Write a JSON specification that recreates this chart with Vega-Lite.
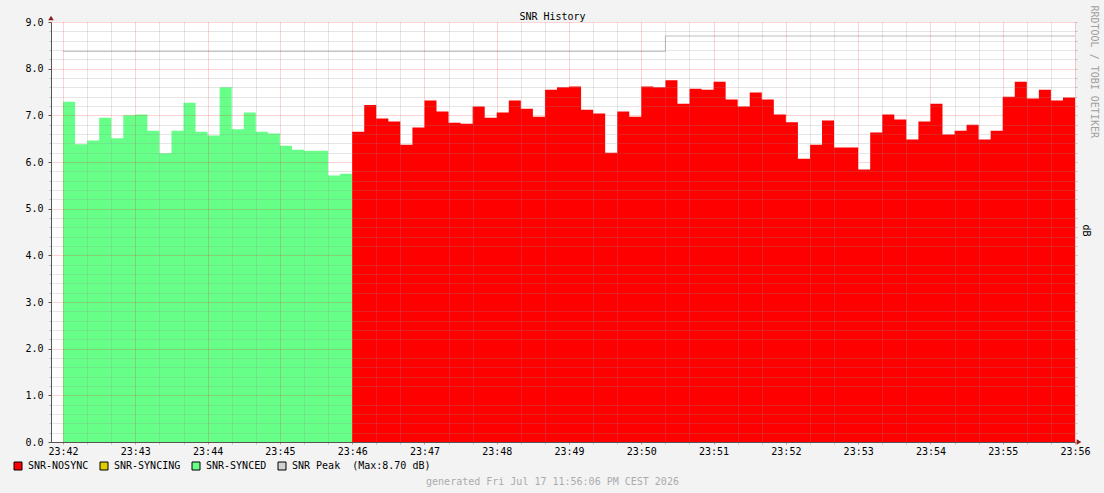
{
  "$schema": "https://vega.github.io/schema/vega-lite/v6.json",
  "width": 1024,
  "height": 420,
  "autosize": {"type": "none"},
  "padding": {"left": 51, "top": 22, "right": 29, "bottom": 51},
  "background": "#F3F3F3",
  "config": {
    "font": "DejaVu Sans Mono",
    "view": {"fill": "#FFFFFF", "stroke": null},
    "axis": {"labelFont": "DejaVu Sans Mono", "labelFontSize": 10, "labelColor": "#000000", "titleFont": "DejaVu Sans Mono", "titleFontSize": 10, "titleFontWeight": "normal", "titleColor": "#000000"},
    "legend": {"labelFont": "DejaVu Sans Mono", "labelFontSize": 10, "labelColor": "#000000"}
  },
  "datasets": {
    "snr": [
      {"t": "2026-07-17T23:42:00Z", "v": 7.29, "s": "SNR-SYNCED"},
      {"t": "2026-07-17T23:42:10Z", "v": 6.38, "s": "SNR-SYNCED"},
      {"t": "2026-07-17T23:42:20Z", "v": 6.46, "s": "SNR-SYNCED"},
      {"t": "2026-07-17T23:42:30Z", "v": 6.95, "s": "SNR-SYNCED"},
      {"t": "2026-07-17T23:42:40Z", "v": 6.51, "s": "SNR-SYNCED"},
      {"t": "2026-07-17T23:42:50Z", "v": 7.00, "s": "SNR-SYNCED"},
      {"t": "2026-07-17T23:43:00Z", "v": 7.02, "s": "SNR-SYNCED"},
      {"t": "2026-07-17T23:43:10Z", "v": 6.67, "s": "SNR-SYNCED"},
      {"t": "2026-07-17T23:43:20Z", "v": 6.19, "s": "SNR-SYNCED"},
      {"t": "2026-07-17T23:43:30Z", "v": 6.67, "s": "SNR-SYNCED"},
      {"t": "2026-07-17T23:43:40Z", "v": 7.27, "s": "SNR-SYNCED"},
      {"t": "2026-07-17T23:43:50Z", "v": 6.65, "s": "SNR-SYNCED"},
      {"t": "2026-07-17T23:44:00Z", "v": 6.57, "s": "SNR-SYNCED"},
      {"t": "2026-07-17T23:44:10Z", "v": 7.60, "s": "SNR-SYNCED"},
      {"t": "2026-07-17T23:44:20Z", "v": 6.70, "s": "SNR-SYNCED"},
      {"t": "2026-07-17T23:44:30Z", "v": 7.06, "s": "SNR-SYNCED"},
      {"t": "2026-07-17T23:44:40Z", "v": 6.65, "s": "SNR-SYNCED"},
      {"t": "2026-07-17T23:44:50Z", "v": 6.61, "s": "SNR-SYNCED"},
      {"t": "2026-07-17T23:45:00Z", "v": 6.35, "s": "SNR-SYNCED"},
      {"t": "2026-07-17T23:45:10Z", "v": 6.26, "s": "SNR-SYNCED"},
      {"t": "2026-07-17T23:45:20Z", "v": 6.24, "s": "SNR-SYNCED"},
      {"t": "2026-07-17T23:45:30Z", "v": 6.24, "s": "SNR-SYNCED"},
      {"t": "2026-07-17T23:45:40Z", "v": 5.71, "s": "SNR-SYNCED"},
      {"t": "2026-07-17T23:45:50Z", "v": 5.75, "s": "SNR-SYNCED"},
      {"t": "2026-07-17T23:46:00Z", "v": 5.75, "s": "SNR-SYNCED"},
      {"t": "2026-07-17T23:46:00Z", "v": 6.65, "s": "SNR-NOSYNC"},
      {"t": "2026-07-17T23:46:10Z", "v": 7.22, "s": "SNR-NOSYNC"},
      {"t": "2026-07-17T23:46:20Z", "v": 6.93, "s": "SNR-NOSYNC"},
      {"t": "2026-07-17T23:46:30Z", "v": 6.87, "s": "SNR-NOSYNC"},
      {"t": "2026-07-17T23:46:40Z", "v": 6.37, "s": "SNR-NOSYNC"},
      {"t": "2026-07-17T23:46:50Z", "v": 6.74, "s": "SNR-NOSYNC"},
      {"t": "2026-07-17T23:47:00Z", "v": 7.32, "s": "SNR-NOSYNC"},
      {"t": "2026-07-17T23:47:10Z", "v": 7.08, "s": "SNR-NOSYNC"},
      {"t": "2026-07-17T23:47:20Z", "v": 6.84, "s": "SNR-NOSYNC"},
      {"t": "2026-07-17T23:47:30Z", "v": 6.82, "s": "SNR-NOSYNC"},
      {"t": "2026-07-17T23:47:40Z", "v": 7.19, "s": "SNR-NOSYNC"},
      {"t": "2026-07-17T23:47:50Z", "v": 6.95, "s": "SNR-NOSYNC"},
      {"t": "2026-07-17T23:48:00Z", "v": 7.06, "s": "SNR-NOSYNC"},
      {"t": "2026-07-17T23:48:10Z", "v": 7.32, "s": "SNR-NOSYNC"},
      {"t": "2026-07-17T23:48:20Z", "v": 7.14, "s": "SNR-NOSYNC"},
      {"t": "2026-07-17T23:48:30Z", "v": 6.97, "s": "SNR-NOSYNC"},
      {"t": "2026-07-17T23:48:40Z", "v": 7.55, "s": "SNR-NOSYNC"},
      {"t": "2026-07-17T23:48:50Z", "v": 7.60, "s": "SNR-NOSYNC"},
      {"t": "2026-07-17T23:49:00Z", "v": 7.62, "s": "SNR-NOSYNC"},
      {"t": "2026-07-17T23:49:10Z", "v": 7.12, "s": "SNR-NOSYNC"},
      {"t": "2026-07-17T23:49:20Z", "v": 7.04, "s": "SNR-NOSYNC"},
      {"t": "2026-07-17T23:49:30Z", "v": 6.20, "s": "SNR-NOSYNC"},
      {"t": "2026-07-17T23:49:40Z", "v": 7.08, "s": "SNR-NOSYNC"},
      {"t": "2026-07-17T23:49:50Z", "v": 6.97, "s": "SNR-NOSYNC"},
      {"t": "2026-07-17T23:50:00Z", "v": 7.62, "s": "SNR-NOSYNC"},
      {"t": "2026-07-17T23:50:10Z", "v": 7.60, "s": "SNR-NOSYNC"},
      {"t": "2026-07-17T23:50:20Z", "v": 7.75, "s": "SNR-NOSYNC"},
      {"t": "2026-07-17T23:50:30Z", "v": 7.25, "s": "SNR-NOSYNC"},
      {"t": "2026-07-17T23:50:40Z", "v": 7.57, "s": "SNR-NOSYNC"},
      {"t": "2026-07-17T23:50:50Z", "v": 7.55, "s": "SNR-NOSYNC"},
      {"t": "2026-07-17T23:51:00Z", "v": 7.72, "s": "SNR-NOSYNC"},
      {"t": "2026-07-17T23:51:10Z", "v": 7.34, "s": "SNR-NOSYNC"},
      {"t": "2026-07-17T23:51:20Z", "v": 7.19, "s": "SNR-NOSYNC"},
      {"t": "2026-07-17T23:51:30Z", "v": 7.49, "s": "SNR-NOSYNC"},
      {"t": "2026-07-17T23:51:40Z", "v": 7.34, "s": "SNR-NOSYNC"},
      {"t": "2026-07-17T23:51:50Z", "v": 7.02, "s": "SNR-NOSYNC"},
      {"t": "2026-07-17T23:52:00Z", "v": 6.85, "s": "SNR-NOSYNC"},
      {"t": "2026-07-17T23:52:10Z", "v": 6.07, "s": "SNR-NOSYNC"},
      {"t": "2026-07-17T23:52:20Z", "v": 6.37, "s": "SNR-NOSYNC"},
      {"t": "2026-07-17T23:52:30Z", "v": 6.89, "s": "SNR-NOSYNC"},
      {"t": "2026-07-17T23:52:40Z", "v": 6.31, "s": "SNR-NOSYNC"},
      {"t": "2026-07-17T23:52:50Z", "v": 6.31, "s": "SNR-NOSYNC"},
      {"t": "2026-07-17T23:53:00Z", "v": 5.84, "s": "SNR-NOSYNC"},
      {"t": "2026-07-17T23:53:10Z", "v": 6.63, "s": "SNR-NOSYNC"},
      {"t": "2026-07-17T23:53:20Z", "v": 7.02, "s": "SNR-NOSYNC"},
      {"t": "2026-07-17T23:53:30Z", "v": 6.91, "s": "SNR-NOSYNC"},
      {"t": "2026-07-17T23:53:40Z", "v": 6.48, "s": "SNR-NOSYNC"},
      {"t": "2026-07-17T23:53:50Z", "v": 6.87, "s": "SNR-NOSYNC"},
      {"t": "2026-07-17T23:54:00Z", "v": 7.25, "s": "SNR-NOSYNC"},
      {"t": "2026-07-17T23:54:10Z", "v": 6.59, "s": "SNR-NOSYNC"},
      {"t": "2026-07-17T23:54:20Z", "v": 6.67, "s": "SNR-NOSYNC"},
      {"t": "2026-07-17T23:54:30Z", "v": 6.80, "s": "SNR-NOSYNC"},
      {"t": "2026-07-17T23:54:40Z", "v": 6.48, "s": "SNR-NOSYNC"},
      {"t": "2026-07-17T23:54:50Z", "v": 6.67, "s": "SNR-NOSYNC"},
      {"t": "2026-07-17T23:55:00Z", "v": 7.40, "s": "SNR-NOSYNC"},
      {"t": "2026-07-17T23:55:10Z", "v": 7.72, "s": "SNR-NOSYNC"},
      {"t": "2026-07-17T23:55:20Z", "v": 7.36, "s": "SNR-NOSYNC"},
      {"t": "2026-07-17T23:55:30Z", "v": 7.55, "s": "SNR-NOSYNC"},
      {"t": "2026-07-17T23:55:40Z", "v": 7.32, "s": "SNR-NOSYNC"},
      {"t": "2026-07-17T23:55:50Z", "v": 7.38, "s": "SNR-NOSYNC"},
      {"t": "2026-07-17T23:56:00Z", "v": 7.38, "s": "SNR-NOSYNC"}
    ],
    "peak": [
      {"t": "2026-07-17T23:42:00Z", "v": 8.37, "s": "SNR Peak"},
      {"t": "2026-07-17T23:50:20Z", "v": 8.70, "s": "SNR Peak"},
      {"t": "2026-07-17T23:56:00Z", "v": 8.70, "s": "SNR Peak"}
    ]
  },
  "resolve": {"axis": {"x": "independent", "y": "independent"}},
  "layer": [
    {
      "data": {"name": "snr"},
      "mark": {"type": "area", "interpolate": "step-after", "opacity": 1},
      "encoding": {
        "x": {
          "field": "t", "type": "temporal",
          "scale": {"type": "utc", "domain": [1784331710000, 1784332560000], "nice": false},
          "axis": {"orient": "bottom", "values": [1784331740000, 1784331760000, 1784331800000, 1784331820000, 1784331860000, 1784331880000, 1784331920000, 1784331940000, 1784331980000, 1784332000000, 1784332040000, 1784332060000, 1784332100000, 1784332120000, 1784332160000, 1784332180000, 1784332220000, 1784332240000, 1784332280000, 1784332300000, 1784332340000, 1784332360000, 1784332400000, 1784332420000, 1784332460000, 1784332480000, 1784332520000, 1784332540000], "grid": true, "gridColor": "#8F8F8F", "gridOpacity": 0.45, "gridDash": [1, 1], "labels": false, "domain": false, "ticks": true, "tickSize": 2, "tickColor": "#C0C0C0", "title": null, "zindex": 1}
        },
        "y": {
          "field": "v", "type": "quantitative", "stack": null,
          "scale": {"domain": [0, 9], "nice": false, "zero": true},
          "axis": {"orient": "left", "values": [0.2, 0.4, 0.6, 0.8, 1.2, 1.4, 1.6, 1.8, 2.2, 2.4, 2.6, 2.8, 3.2, 3.4, 3.6, 3.8, 4.2, 4.4, 4.6, 4.8, 5.2, 5.4, 5.6, 5.8, 6.2, 6.4, 6.6, 6.8, 7.2, 7.4, 7.6, 7.8, 8.2, 8.4, 8.6, 8.8], "grid": true, "gridColor": "#8F8F8F", "gridOpacity": 0.45, "gridDash": [1, 1], "labels": false, "domain": false, "ticks": true, "tickSize": 2, "tickColor": "#C0C0C0", "title": null, "zindex": 1}
        },
        "color": {
          "field": "s", "type": "nominal",
          "scale": {"domain": ["SNR-NOSYNC", "SNR-SYNCING", "SNR-SYNCED", "SNR Peak"], "range": ["#FF0000", "#DDCC00", "#66FF88", "#D0D0D0"]},
          "legend": {
            "orient": "none", "direction": "horizontal", "legendX": -38, "legendY": 439, "title": null, "padding": 0,
            "symbolType": "square", "symbolSize": 64, "symbolStrokeWidth": 1, "symbolStrokeColor": "#000000",
            "labelOffset": 5, "columnPadding": 9, "labelFontSize": 10, "labelFont": "DejaVu Sans Mono",
            "labelExpr": "datum.label == 'SNR Peak' ? 'SNR Peak\u00a0\u00a0(Max:8.70 dB)' : datum.label",
            "encode": {"symbols": {"stroke": {"value": "#000000"}, "strokeWidth": {"value": 1}, "opacity": {"value": 1}}}
          }
        }
      }
    },
    {
      "data": {"name": "peak"},
      "mark": {"type": "line", "interpolate": "step-after", "strokeWidth": 1, "color": "#BDBDBD"},
      "encoding": {
        "x": {
          "field": "t", "type": "temporal",
          "axis": {"orient": "bottom", "values": [1784331720000, 1784331780000, 1784331840000, 1784331900000, 1784331960000, 1784332020000, 1784332080000, 1784332140000, 1784332200000, 1784332260000, 1784332320000, 1784332380000, 1784332440000, 1784332500000, 1784332560000], "format": "%H:%M", "grid": true, "gridColor": "#FF0000", "gridOpacity": 0.35, "gridDash": [1, 1], "domain": true, "domainColor": "#555555", "ticks": true, "tickSize": 2, "tickColor": "#F08080", "labelPadding": 2, "labelFlush": false, "labelOverlap": false, "labelBound": false, "title": "generated Fri Jul 17 11:56:06 PM CEST 2026", "titleColor": "#ABABAB", "titleX": 501, "titleY": 39, "titleAlign": "center", "titleBaseline": "middle", "zindex": 1}
        },
        "y": {
          "field": "v", "type": "quantitative",
          "axis": {"orient": "left", "values": [0, 1, 2, 3, 4, 5, 6, 7, 8, 9], "format": ".1f", "grid": true, "gridColor": "#FF0000", "gridOpacity": 0.35, "gridDash": [1, 1], "domain": true, "domainColor": "#555555", "ticks": true, "tickSize": 3, "tickColor": "#555555", "labelPadding": 5, "title": null, "zindex": 1}
        },
        "detail": {"field": "s", "type": "nominal"}
      }
    },
    {
      "data": {"values": [{}]},
      "mark": {"type": "point", "shape": "triangle-up", "filled": true, "size": 30, "color": "#8B1A1A", "opacity": 1, "yOffset": -4},
      "encoding": {
        "x": {
          "datum": 1784331710000, "type": "temporal",
          "axis": {"orient": "top", "title": "SNR History", "labels": false, "ticks": false, "domain": false, "grid": false, "titleX": 501, "titleY": -3, "titleAlign": "center", "titleBaseline": "alphabetic", "titleColor": "#000000"}
        },
        "y": {
          "datum": 9, "type": "quantitative",
          "axis": {"orient": "right", "title": "dB", "titleAngle": 90, "titleX": 10, "titleY": 208, "titleAlign": "center", "titleBaseline": "middle", "labels": false, "domain": false, "grid": false, "ticks": true, "tickSize": 2, "tickColor": "#C0C0C0", "values": [0, 0.2, 0.4, 0.6, 0.8, 1, 1.2, 1.4, 1.6, 1.8, 2, 2.2, 2.4, 2.6, 2.8, 3, 3.2, 3.4, 3.6, 3.8, 4, 4.2, 4.4, 4.6, 4.8, 5, 5.2, 5.4, 5.6, 5.8, 6, 6.2, 6.4, 6.6, 6.8, 7, 7.2, 7.4, 7.6, 7.8, 8, 8.2, 8.4, 8.6, 8.8, 9]}
        }
      }
    },
    {
      "data": {"values": [{}]},
      "mark": {"type": "point", "shape": "triangle-right", "filled": true, "size": 30, "color": "#8B1A1A", "opacity": 1, "xOffset": 4},
      "encoding": {
        "x": {"datum": 1784332560000, "type": "temporal", "axis": null},
        "y": {
          "datum": 0, "type": "quantitative",
          "axis": {"orient": "right", "title": "RRDTOOL / TOBI OETIKER", "titleAngle": 90, "titleX": 18, "titleY": -17, "titleAlign": "left", "titleBaseline": "middle", "titleColor": "#A0A0A0", "labels": false, "domain": false, "grid": false, "ticks": false}
        }
      }
    }
  ]
}
